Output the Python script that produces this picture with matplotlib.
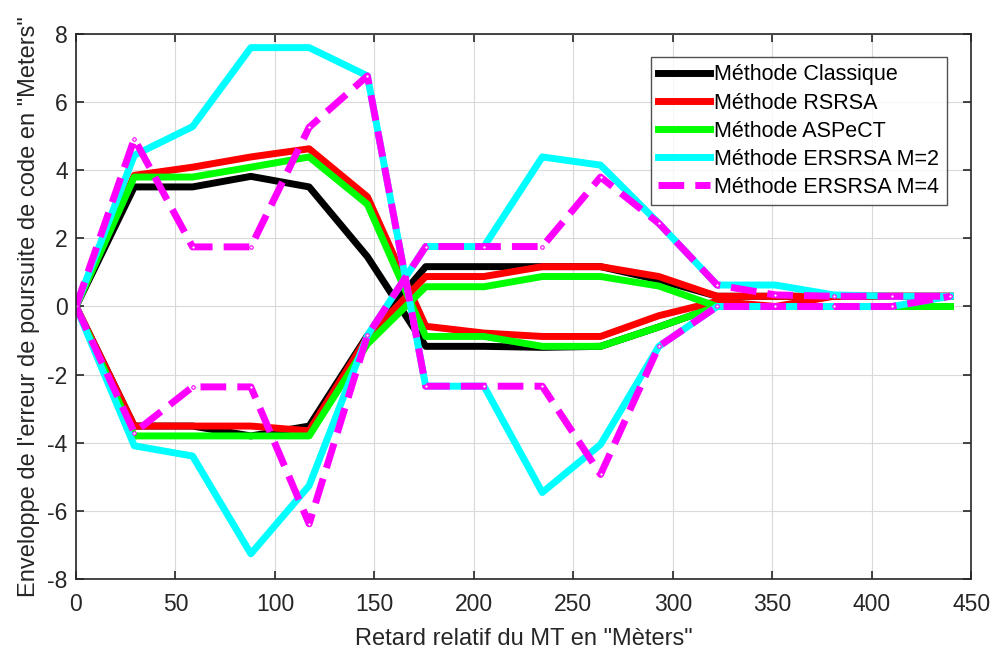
import numpy as np
import matplotlib
matplotlib.use("Agg")
import matplotlib.pyplot as plt

# === Data ===
retard = [0, 29.3, 58.6, 87.9, 117.2, 146.5, 175.8, 205.1, 234.4, 263.7,
          293.0, 322.3, 351.6, 380.9, 410.2, 439.5]

classique_a = [0, 3.51, 3.51, 3.82, 3.51, 1.46, -1.17, -1.17, -1.2, -1.17, -0.6, 0, 0, 0, 0, 0]
classique_b = [0, -3.51, -3.51, -3.8, -3.51, -0.85, 1.17, 1.17, 1.17, 1.17, 0.78, 0.3, 0.3, 0.3, 0.3, 0.3]

rsrsa_a = [0, 3.85, 4.09, 4.39, 4.63, 3.22, -0.58, -0.78, -0.88, -0.88, -0.27, 0.15, 0, 0.3, 0.3, 0.3]
rsrsa_b = [0, -3.51, -3.51, -3.51, -3.65, -0.9, 0.88, 0.88, 1.17, 1.17, 0.88, 0.3, 0.3, 0.3, 0.3, 0.3]

aspect_a = [0, 3.8, 3.8, 4.09, 4.39, 3.0, -0.88, -0.88, -1.17, -1.17, -0.6, 0, 0, 0, 0, 0]
aspect_b = [0, -3.8, -3.8, -3.8, -3.8, -1.1, 0.58, 0.58, 0.88, 0.88, 0.6, 0, 0, 0, 0, 0]

ersrsa2_a = [0, 4.44, 5.28, 7.6, 7.6, 6.77, -2.34, -2.34, -5.46, -4.05, -1.17, 0, 0, 0, 0, 0.3]
ersrsa2_b = [0, -4.09, -4.39, -7.26, -5.26, -0.85, 1.76, 1.76, 4.39, 4.15, 2.44, 0.63, 0.63, 0.34, 0.3, 0.3]

ersrsa4_a = [0, 4.92, 1.75, 1.75, 5.26, 6.77, -2.34, -2.34, -2.34, -4.93, -1.17, 0, 0, 0, 0, 0.3]
ersrsa4_b = [0, -3.7, -2.36, -2.36, -6.38, -0.85, 1.76, 1.76, 1.76, 3.8, 2.44, 0.63, 0.34, 0.3, 0.3, 0.3]

noms = ["Méthode Classique", "Méthode RSRSA", "Méthode ASPeCT",
        "Méthode ERSRSA M=2", "Méthode ERSRSA M=4"]

plt.rcParams['font.family'] = ['Liberation Sans', 'DejaVu Sans']
plt.rcParams['axes.unicode_minus'] = False

fig = plt.figure(figsize=(9.92, 6.51), dpi=100)
ax = fig.add_axes([0.0766, 0.1106, 0.9024, 0.8372])

lw = 5
ax.plot(retard, classique_a, color='black', lw=lw, label=noms[0])
ax.plot(retard, classique_b, color='black', lw=lw)
ax.plot(retard, rsrsa_a, color='red', lw=lw, label=noms[1])
ax.plot(retard, rsrsa_b, color='red', lw=lw)
ax.plot(retard, aspect_a, color='#00ff00', lw=lw, label=noms[2])
ax.plot(retard, aspect_b, color='#00ff00', lw=lw)
ax.plot(retard, ersrsa2_a, color='cyan', lw=lw, label=noms[3])
ax.plot(retard, ersrsa2_b, color='cyan', lw=lw)
mk = dict(marker='o', markersize=2.5, markerfacecolor='white',
          markeredgecolor='magenta', markeredgewidth=0.8)
ax.plot(retard, ersrsa4_a, color='magenta', lw=lw, ls='--', label=noms[4], **mk)
ax.plot(retard, ersrsa4_b, color='magenta', lw=lw, ls='--', **mk)

ax.set_xlim(0, 450)
ax.set_ylim(-8, 8)
ax.set_xticks(range(0, 451, 50))
ax.set_yticks(range(-8, 9, 2))
ax.grid(True, color='#d9d9d9', lw=0.8)
ax.set_axisbelow(True)
ax.tick_params(direction='in', top=True, right=True, length=6, width=1.2,
               labelsize=16.5, colors='#262626')
ax.tick_params(axis='x', pad=10)
ax.tick_params(axis='y', pad=6)
for s in ax.spines.values():
    s.set_color('#262626')
    s.set_linewidth(1.2)

ax.set_xlabel('Retard relatif du MT en "Mèters"', fontsize=17, color='#262626',
              labelpad=9)
ax.set_ylabel('Enveloppe de l\'erreur de poursuite de code en "Meters"',
              fontsize=17, color='#262626', labelpad=5)

leg = ax.legend(loc='upper right', bbox_to_anchor=(0.973, 0.958), borderaxespad=0,
                fontsize=15.5, frameon=True, fancybox=False, handlelength=2.4,
                borderpad=0.35, labelspacing=0.33, handletextpad=0.2)
leg.get_frame().set_edgecolor('#262626')
leg.get_frame().set_linewidth(1.0)
for h in leg.get_lines():
    h.set_marker('')

fig.savefig('out.png', dpi=100)
